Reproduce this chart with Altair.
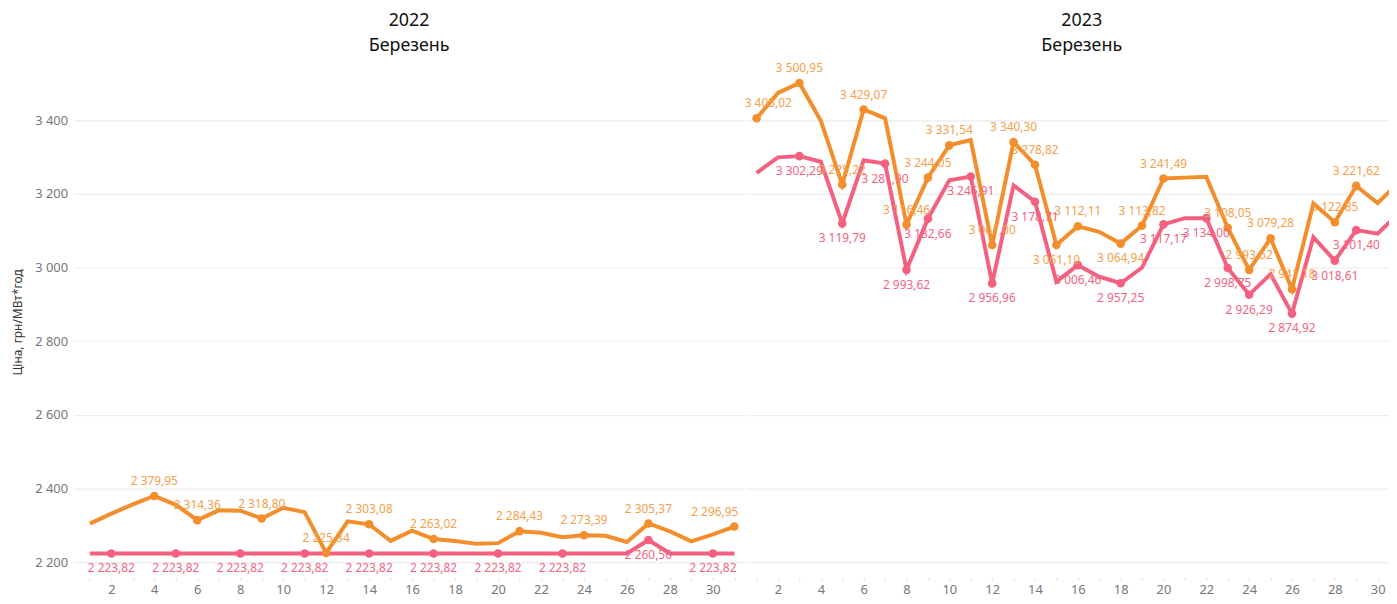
import altair as alt
import pandas as pd

days = list(range(1, 32))

orange_2022 = [2305, 2332, 2357, 2379.95, 2356, 2314.36, 2341, 2340, 2318.80, 2348,
               2336, 2225.34, 2311, 2303.08, 2258, 2286, 2263.02, 2258, 2250, 2252,
               2284.43, 2280, 2268, 2273.39, 2272, 2255, 2305.37, 2284, 2257, 2276, 2296.95]
pink_2022 = [2223.82] * 26 + [2260.56] + [2223.82] * 4

orange_2023 = [3405.02, 3474, 3500.95, 3398, 3225.22, 3429.07, 3405, 3116.46, 3244.05, 3331.54,
               3346, 3061.00, 3340.30, 3278.82, 3061.10, 3112.11, 3097, 3064.94, 3113.82, 3241.49,
               3244, 3246, 3108.05, 2993.62, 3079.28, 2941.18, 3174, 3122.85, 3221.62, 3175, 3232]
pink_2023 = [3257, 3299, 3302.29, 3287, 3119.79, 3291, 3281.90, 2993.62, 3132.66, 3237,
             3246.91, 2956.96, 3223, 3178.71, 2962, 3006.46, 2975, 2957.25, 3000, 3117.17,
             3134, 3134.00, 2998.75, 2926.29, 2982, 2874.92, 3082, 3018.61, 3101.40, 3092, 3148]

orange_2022_dots = [4, 6, 9, 12, 14, 17, 21, 24, 27, 31]
pink_2022_dots = [2, 5, 8, 11, 14, 17, 20, 23, 27, 30]
orange_2023_dots = [1, 3, 5, 6, 8, 9, 10, 12, 13, 14, 15, 16, 18, 19, 20, 23, 24, 25, 26, 28, 29]
pink_2023_dots = [3, 5, 7, 8, 9, 11, 12, 14, 16, 18, 20, 22, 23, 24, 26, 28, 29]
orange_2023_below = [15, 18]

y_ticks = [2200, 2400, 2600, 2800, 3000, 3200, 3400]
years = ["2022", "2023"]
month = "Березень"
y_title = "Ціна, грн/МВт*год"

ORANGE = "#F28E2B"
PINK = "#F4607F"
ORANGE_LBL = "#F5A04A"
PINK_LBL = "#F2647F"
FONT = "Noto Sans"


def fmt(v):
    return f"{v:,.2f}".replace(",", " ").replace(".", ",")


def build_df(orange, pink, odots, pdots, obelow):
    rows = []
    for d, v in zip(days, orange):
        pos = ("below" if d in obelow else "above") if d in odots else "none"
        rows.append(dict(day=d, value=v, series="orange", dot=d in odots, pos=pos, txt=fmt(v)))
    for d, v in zip(days, pink):
        pos = "below" if d in pdots else "none"
        rows.append(dict(day=d, value=v, series="pink", dot=d in pdots, pos=pos, txt=fmt(v)))
    return pd.DataFrame(rows)


def panel(df, year, xdomain, width, first, title_dx, title_offset, left_edge=(), right_edge=()):
    xs = alt.Scale(domain=xdomain, nice=False, zero=False)
    ys = alt.Scale(domain=[2160, 3545], nice=False, zero=False)
    if first:
        yax = alt.Axis(values=y_ticks, title=y_title, labelExpr="replace(format(datum.value, ',d'), ',', ' ')",
                       labelColor="#777777", labelFontSize=13, labelFont=FONT, labelPadding=6,
                       ticks=False, domain=False, gridColor="#ececec", gridWidth=1.2,
                       titleFont=FONT, titleFontSize=12, titleFontWeight="normal", titleColor="#333333",
                       titlePadding=10)
    else:
        yax = alt.Axis(values=y_ticks, title=None, labels=False, ticks=False, domain=False,
                       gridColor="#ececec", gridWidth=1.2)
    xax = alt.Axis(values=days, title=None, labelExpr="datum.value % 2 == 0 ? datum.value : ''",
                   labelColor="#777777", labelFontSize=13, labelFont=FONT, labelPadding=4,
                   tickColor="#dddddd", tickSize=3, tickWidth=1, domain=False, grid=False, labelFlush=False)
    x = alt.X("day:Q", scale=xs, axis=xax)
    y = alt.Y("value:Q", scale=ys, axis=yax)
    color = alt.Color("series:N", scale=alt.Scale(domain=["orange", "pink"], range=[ORANGE, PINK]), legend=None)
    base = alt.Chart(df)
    line = base.mark_line(strokeWidth=4, clip=True).encode(x=x, y=y, color=color, detail="series:N")
    pts = base.transform_filter("datum.dot").mark_circle(size=75, opacity=1, clip=True).encode(x=x, y=y, color=color)
    layers = [line, pts]
    for ser, col in [("orange", ORANGE_LBL), ("pink", PINK_LBL)]:
        for pos, dy in [("above", -15), ("below", 15)]:
            for align, dx, sel in [("center", 0, None), ("left", -12, left_edge), ("right", 4, right_edge)]:
                if sel is None:
                    excl = [d for (s, d) in list(left_edge) + list(right_edge) if s == ser]
                    f = f"datum.series == '{ser}' && datum.pos == '{pos}' && indexof({excl}, datum.day) < 0"
                else:
                    dd = [d for (s, d) in sel if s == ser]
                    if not dd:
                        continue
                    f = f"datum.series == '{ser}' && datum.pos == '{pos}' && indexof({dd}, datum.day) >= 0"
                layers.append(
                    base.transform_filter(f).mark_text(dy=dy, dx=dx, align=align, baseline="middle",
                                                        fontSize=12, font=FONT, color=col)
                    .encode(x=x, y=y, text="txt:N")
                )
    return alt.layer(*layers).properties(
        width=width, height=514,
        title=alt.TitleParams(text=year, subtitle=month, fontSize=18, subtitleFontSize=18,
                              font=FONT, subtitleFont=FONT, fontWeight="normal",
                              color="#111111", subtitleColor="#111111", anchor="middle",
                              frame="group", subtitlePadding=7, offset=title_offset, dx=title_dx)
    )


df22 = build_df(orange_2022, pink_2022, orange_2022_dots, pink_2022_dots, [])
df23 = build_df(orange_2023, pink_2023, orange_2023_dots, pink_2023_dots, orange_2023_below)

p1 = panel(df22, years[0], [0.24, 31.48], 676, True, 0, 12, right_edge=[("orange", 31)])
p2 = panel(df23, years[1], [0.536, 30.53], 647, False, 14, 7, left_edge=[("orange", 1)])

chart = alt.hconcat(p1, p2, spacing=0).properties(
    padding={"left": 3, "top": 2, "right": 0, "bottom": 0}
).configure_view(stroke=None)

chart.save("out.html", embed_options={"renderer": "svg", "actions": False})
